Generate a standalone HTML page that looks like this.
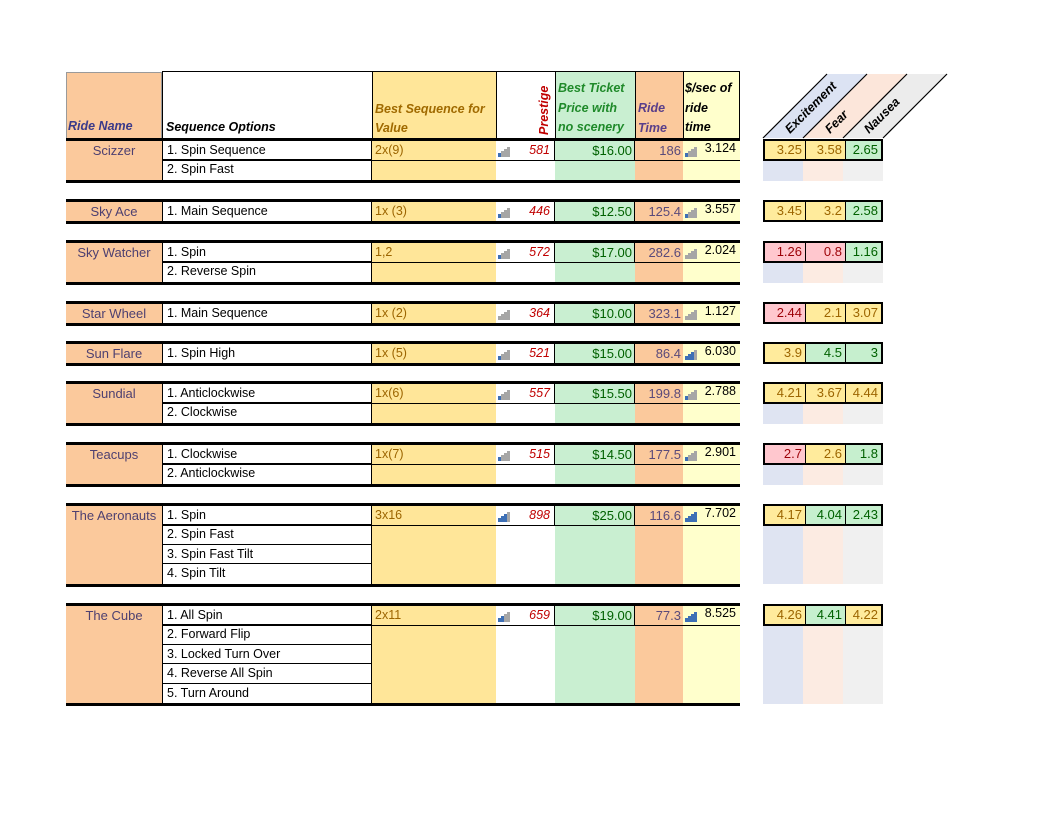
<!DOCTYPE html>
<html><head><meta charset="utf-8"><style>
body{margin:0;width:1053px;height:813px;background:#fff;position:relative;overflow:hidden;font-family:"Liberation Sans",sans-serif;font-size:12.5px}
.a{position:absolute;box-sizing:border-box}
.g{position:absolute;left:66px;width:674px;border-top:3px solid #000;border-bottom:3px solid #000;box-sizing:content-box}
.s{position:absolute;top:0;bottom:0}
.nm{left:0;width:96px;background:#fbc99c}
.sq{left:96px;width:210px;background:#fff;border-left:1px solid #000;border-right:1px solid #000;box-sizing:border-box}
.bs{left:306px;width:124px;background:#ffe699}
.pr{left:430px;width:59px;background:#fff}
.pc{left:489px;width:80px;background:#c9efd1}
.tm{left:569px;width:48px;background:#fbc99c}
.vl{left:617px;width:57px;background:#ffffcc}
.c{position:absolute;height:19.4px;line-height:19px;white-space:nowrap;overflow:hidden;box-sizing:border-box}
.rn{left:0;width:96px;text-align:center;color:#4e4070;font-size:13px}
.sqc{left:96px;width:210px;padding-left:4px;border-left:1px solid #000;border-right:1px solid #000;border-bottom:1px solid #000;color:#000}
.last{border-bottom:none}
.l1{position:absolute;left:96px;width:578px;top:19px;height:1px;background:#000}
.bsc{left:306px;width:124px;padding-left:3px;color:#9c6500}
.prc{left:430px;width:59px;padding-right:4px;text-align:right;color:#c00000;font-style:italic;border-right:1px solid #000}
.pcc{left:489px;width:80px;padding-right:2px;text-align:right;color:#006100;font-size:13px;border-right:1px solid #000}
.tmc{left:569px;width:48px;padding-right:2px;text-align:right;color:#5a4a7a;font-size:13px}
.vlc{left:617px;width:57px;padding-right:4px;text-align:right;color:#000;line-height:15px}
.ic{position:absolute;top:5px;width:13px;height:11px}
.ic i{position:absolute;bottom:0;width:2.5px;background:#a6a6a6}
.ic i.b{background:#3d6fb5}
.rt{position:absolute;left:763px;width:120px;height:22px;border:2px solid #000;box-sizing:border-box}
.rt span{position:absolute;top:0;height:18px;line-height:18px;text-align:right;padding-right:3px;box-sizing:border-box;font-size:13px}
.y{background:#ffeb9c;color:#9c6500}.gr{background:#c6efce;color:#006100}.r{background:#ffc7ce;color:#9c0006}
.fd{position:absolute;left:763px;width:120px}
.fd div{position:absolute;top:0;bottom:0;width:40px}
</style></head><body>

<!-- header -->
<div class="a" style="left:66px;top:72px;width:96px;height:66px;background:#fbc99c;border:1px solid #9a9a9a;border-bottom:none"></div>
<div class="a" style="left:68px;top:119px;color:#3a3a8a;font-weight:bold;font-style:italic;font-size:12.5px">Ride Name</div>
<div class="a" style="top:71px;height:3px;background:#000;left:162px;width:578px"></div>
<div class="a" style="left:162px;top:72px;width:210px;height:66px;background:#fff;border-left:1px solid #000"></div>
<div class="a" style="left:166px;top:120px;font-weight:bold;font-style:italic;font-size:12.5px">Sequence Options</div>
<div class="a" style="left:372px;top:72px;width:124px;height:66px;background:#ffe699;border-left:1px solid #000"></div>
<div class="a" style="left:375px;top:100px;color:#a06a00;font-weight:bold;font-style:italic;line-height:19px;font-size:12.5px">Best Sequence for<br>Value</div>
<div class="a" style="left:496px;top:72px;width:59px;height:66px;background:#fff;border-left:1px solid #000"></div>
<div class="a" style="left:555px;top:72px;width:80px;height:66px;background:#c9efd1;border-left:1px solid #000"></div>
<div class="a" style="left:537px;top:135px;transform-origin:0 0;transform:rotate(-90deg);color:#c00000;font-weight:bold;font-style:italic;font-size:12.5px;line-height:15px">Prestige</div>
<div class="a" style="left:558px;top:79px;color:#1f8a2a;font-weight:bold;font-style:italic;line-height:19.5px;font-size:12.5px">Best Ticket<br>Price with<br>no scenery</div>
<div class="a" style="left:635px;top:72px;width:48px;height:66px;background:#fbc99c;border-left:1px solid #000"></div>
<div class="a" style="left:638px;top:99px;color:#5a3f8a;font-weight:bold;font-style:italic;line-height:19.5px;font-size:12.5px">Ride<br>Time</div>
<div class="a" style="left:683px;top:72px;width:57px;height:66px;background:#ffffcc;border-left:1px solid #000;border-right:1px solid #000"></div>
<div class="a" style="left:685px;top:79px;color:#000;font-weight:bold;font-style:italic;line-height:19.5px;font-size:12.5px">$/sec of<br>ride<br>time</div>

<svg class="a" style="left:0;top:0" width="1053" height="813">
<polygon points="763,138 803,138 867,74 827,74" fill="#dce3f3"/>
<polygon points="803,138 843,138 907,74 867,74" fill="#fce6da"/>
<polygon points="843,138 883,138 947,74 907,74" fill="#ececec"/>
<g stroke="#000" stroke-width="1.2">
<line x1="763" y1="138" x2="827" y2="74"/><line x1="803" y1="138" x2="867" y2="74"/>
<line x1="843" y1="138" x2="907" y2="74"/><line x1="883" y1="138" x2="947" y2="74"/>
</g>
<g font-family="Liberation Sans" font-style="italic" font-weight="bold" font-size="12.5" fill="#000">
<text transform="translate(790,134) rotate(-45)">Excitement</text>
<text transform="translate(830,134) rotate(-45)">Fear</text>
<text transform="translate(869,134) rotate(-45)">Nausea</text>
</g>
</svg>

<!-- Scizzer -->
<div class="g" style="top:138px;height:38.8px">
<div class="s nm"></div><div class="s sq"></div><div class="s bs"></div><div class="s pr"></div><div class="s pc"></div><div class="s tm"></div><div class="s vl"></div>
<div class="c rn" style="top:0">Scizzer</div>
<div class="c sqc" style="top:0">1. Spin Sequence</div>
<div class="c sqc last" style="top:19.4px">2. Spin Fast</div>
<div class="c bsc" style="top:0">2x(9)</div>
<div class="c prc" style="top:0">581</div>
<div class="ic" style="left:432px"><i class="b" style="left:0;height:4px"></i><i style="left:3px;height:6px"></i><i style="left:6px;height:8px"></i><i style="left:9px;height:10px"></i></div>
<div class="c pcc" style="top:0">$16.00</div>
<div class="c tmc" style="top:0">186</div>
<div class="ic" style="left:619px"><i class="b" style="left:0;height:4px"></i><i style="left:3px;height:6px"></i><i style="left:6px;height:8px"></i><i style="left:9px;height:10px"></i></div>
<div class="c vlc" style="top:0">3.124</div>
<div class="l1"></div>
</div>
<div class="rt" style="top:139px"><span class="y" style="left:0;width:40px">3.25</span><span class="y" style="left:40px;width:40px;border-left:1px solid #000">3.58</span><span class="gr" style="left:80px;width:36px;border-left:1px solid #000">2.65</span></div>
<div class="fd" style="top:161px;height:20px"><div style="left:0;background:#dfe4f2"></div><div style="left:40px;background:#fcebe2"></div><div style="left:80px;background:#f0f0f0"></div></div>

<!-- Sky Ace -->
<div class="g" style="top:199px;height:19.4px">
<div class="s nm"></div><div class="s sq"></div><div class="s bs"></div><div class="s pr"></div><div class="s pc"></div><div class="s tm"></div><div class="s vl"></div>
<div class="c rn" style="top:0">Sky Ace</div>
<div class="c sqc last" style="top:0">1. Main Sequence</div>
<div class="c bsc" style="top:0">1x (3)</div>
<div class="c prc" style="top:0">446</div>
<div class="ic" style="left:432px"><i class="b" style="left:0;height:4px"></i><i style="left:3px;height:6px"></i><i style="left:6px;height:8px"></i><i style="left:9px;height:10px"></i></div>
<div class="c pcc" style="top:0">$12.50</div>
<div class="c tmc" style="top:0">125.4</div>
<div class="ic" style="left:619px"><i class="b" style="left:0;height:4px"></i><i style="left:3px;height:6px"></i><i style="left:6px;height:8px"></i><i style="left:9px;height:10px"></i></div>
<div class="c vlc" style="top:0">3.557</div>
</div>
<div class="rt" style="top:200px"><span class="y" style="left:0;width:40px">3.45</span><span class="y" style="left:40px;width:40px;border-left:1px solid #000">3.2</span><span class="gr" style="left:80px;width:36px;border-left:1px solid #000">2.58</span></div>

<!-- Sky Watcher -->
<div class="g" style="top:240px;height:38.8px">
<div class="s nm"></div><div class="s sq"></div><div class="s bs"></div><div class="s pr"></div><div class="s pc"></div><div class="s tm"></div><div class="s vl"></div>
<div class="c rn" style="top:0">Sky Watcher</div>
<div class="c sqc" style="top:0">1. Spin</div>
<div class="c sqc last" style="top:19.4px">2. Reverse Spin</div>
<div class="c bsc" style="top:0">1,2</div>
<div class="c prc" style="top:0">572</div>
<div class="ic" style="left:432px"><i class="b" style="left:0;height:4px"></i><i style="left:3px;height:6px"></i><i style="left:6px;height:8px"></i><i style="left:9px;height:10px"></i></div>
<div class="c pcc" style="top:0">$17.00</div>
<div class="c tmc" style="top:0">282.6</div>
<div class="ic" style="left:619px"><i style="left:0;height:4px"></i><i style="left:3px;height:6px"></i><i style="left:6px;height:8px"></i><i style="left:9px;height:10px"></i></div>
<div class="c vlc" style="top:0">2.024</div>
<div class="l1"></div>
</div>
<div class="rt" style="top:241px"><span class="r" style="left:0;width:40px">1.26</span><span class="r" style="left:40px;width:40px;border-left:1px solid #000">0.8</span><span class="gr" style="left:80px;width:36px;border-left:1px solid #000">1.16</span></div>
<div class="fd" style="top:263px;height:20px"><div style="left:0;background:#dfe4f2"></div><div style="left:40px;background:#fcebe2"></div><div style="left:80px;background:#f0f0f0"></div></div>

<!-- Star Wheel -->
<div class="g" style="top:301px;height:19.4px">
<div class="s nm"></div><div class="s sq"></div><div class="s bs"></div><div class="s pr"></div><div class="s pc"></div><div class="s tm"></div><div class="s vl"></div>
<div class="c rn" style="top:0">Star Wheel</div>
<div class="c sqc last" style="top:0">1. Main Sequence</div>
<div class="c bsc" style="top:0">1x (2)</div>
<div class="c prc" style="top:0">364</div>
<div class="ic" style="left:432px"><i style="left:0;height:4px"></i><i style="left:3px;height:6px"></i><i style="left:6px;height:8px"></i><i style="left:9px;height:10px"></i></div>
<div class="c pcc" style="top:0">$10.00</div>
<div class="c tmc" style="top:0">323.1</div>
<div class="ic" style="left:619px"><i style="left:0;height:4px"></i><i style="left:3px;height:6px"></i><i style="left:6px;height:8px"></i><i style="left:9px;height:10px"></i></div>
<div class="c vlc" style="top:0">1.127</div>
</div>
<div class="rt" style="top:302px"><span class="r" style="left:0;width:40px">2.44</span><span class="y" style="left:40px;width:40px;border-left:1px solid #000">2.1</span><span class="y" style="left:80px;width:36px;border-left:1px solid #000">3.07</span></div>

<!-- Sun Flare -->
<div class="g" style="top:341px;height:19.4px">
<div class="s nm"></div><div class="s sq"></div><div class="s bs"></div><div class="s pr"></div><div class="s pc"></div><div class="s tm"></div><div class="s vl"></div>
<div class="c rn" style="top:0">Sun Flare</div>
<div class="c sqc last" style="top:0">1. Spin High</div>
<div class="c bsc" style="top:0">1x (5)</div>
<div class="c prc" style="top:0">521</div>
<div class="ic" style="left:432px"><i class="b" style="left:0;height:4px"></i><i style="left:3px;height:6px"></i><i style="left:6px;height:8px"></i><i style="left:9px;height:10px"></i></div>
<div class="c pcc" style="top:0">$15.00</div>
<div class="c tmc" style="top:0">86.4</div>
<div class="ic" style="left:619px"><i class="b" style="left:0;height:4px"></i><i class="b" style="left:3px;height:6px"></i><i class="b" style="left:6px;height:8px"></i><i style="left:9px;height:10px"></i></div>
<div class="c vlc" style="top:0">6.030</div>
</div>
<div class="rt" style="top:342px"><span class="y" style="left:0;width:40px">3.9</span><span class="gr" style="left:40px;width:40px;border-left:1px solid #000">4.5</span><span class="gr" style="left:80px;width:36px;border-left:1px solid #000">3</span></div>

<!-- Sundial -->
<div class="g" style="top:381px;height:38.8px">
<div class="s nm"></div><div class="s sq"></div><div class="s bs"></div><div class="s pr"></div><div class="s pc"></div><div class="s tm"></div><div class="s vl"></div>
<div class="c rn" style="top:0">Sundial</div>
<div class="c sqc" style="top:0">1. Anticlockwise</div>
<div class="c sqc last" style="top:19.4px">2. Clockwise</div>
<div class="c bsc" style="top:0">1x(6)</div>
<div class="c prc" style="top:0">557</div>
<div class="ic" style="left:432px"><i class="b" style="left:0;height:4px"></i><i style="left:3px;height:6px"></i><i style="left:6px;height:8px"></i><i style="left:9px;height:10px"></i></div>
<div class="c pcc" style="top:0">$15.50</div>
<div class="c tmc" style="top:0">199.8</div>
<div class="ic" style="left:619px"><i class="b" style="left:0;height:4px"></i><i style="left:3px;height:6px"></i><i style="left:6px;height:8px"></i><i style="left:9px;height:10px"></i></div>
<div class="c vlc" style="top:0">2.788</div>
<div class="l1"></div>
</div>
<div class="rt" style="top:382px"><span class="y" style="left:0;width:40px">4.21</span><span class="y" style="left:40px;width:40px;border-left:1px solid #000">3.67</span><span class="y" style="left:80px;width:36px;border-left:1px solid #000">4.44</span></div>
<div class="fd" style="top:404px;height:20px"><div style="left:0;background:#dfe4f2"></div><div style="left:40px;background:#fcebe2"></div><div style="left:80px;background:#f0f0f0"></div></div>

<!-- Teacups -->
<div class="g" style="top:442px;height:38.8px">
<div class="s nm"></div><div class="s sq"></div><div class="s bs"></div><div class="s pr"></div><div class="s pc"></div><div class="s tm"></div><div class="s vl"></div>
<div class="c rn" style="top:0">Teacups</div>
<div class="c sqc" style="top:0">1. Clockwise</div>
<div class="c sqc last" style="top:19.4px">2. Anticlockwise</div>
<div class="c bsc" style="top:0">1x(7)</div>
<div class="c prc" style="top:0">515</div>
<div class="ic" style="left:432px"><i class="b" style="left:0;height:4px"></i><i style="left:3px;height:6px"></i><i style="left:6px;height:8px"></i><i style="left:9px;height:10px"></i></div>
<div class="c pcc" style="top:0">$14.50</div>
<div class="c tmc" style="top:0">177.5</div>
<div class="ic" style="left:619px"><i class="b" style="left:0;height:4px"></i><i style="left:3px;height:6px"></i><i style="left:6px;height:8px"></i><i style="left:9px;height:10px"></i></div>
<div class="c vlc" style="top:0">2.901</div>
<div class="l1"></div>
</div>
<div class="rt" style="top:443px"><span class="r" style="left:0;width:40px">2.7</span><span class="y" style="left:40px;width:40px;border-left:1px solid #000">2.6</span><span class="gr" style="left:80px;width:36px;border-left:1px solid #000">1.8</span></div>
<div class="fd" style="top:465px;height:20px"><div style="left:0;background:#dfe4f2"></div><div style="left:40px;background:#fcebe2"></div><div style="left:80px;background:#f0f0f0"></div></div>

<!-- The Aeronauts -->
<div class="g" style="top:503px;height:77.6px">
<div class="s nm"></div><div class="s sq"></div><div class="s bs"></div><div class="s pr"></div><div class="s pc"></div><div class="s tm"></div><div class="s vl"></div>
<div class="c rn" style="top:0">The Aeronauts</div>
<div class="c sqc" style="top:0">1. Spin</div>
<div class="c sqc" style="top:19.4px">2. Spin Fast</div>
<div class="c sqc" style="top:38.8px">3. Spin Fast Tilt</div>
<div class="c sqc last" style="top:58.2px">4. Spin Tilt</div>
<div class="c bsc" style="top:0">3x16</div>
<div class="c prc" style="top:0">898</div>
<div class="ic" style="left:432px"><i class="b" style="left:0;height:4px"></i><i class="b" style="left:3px;height:6px"></i><i class="b" style="left:6px;height:8px"></i><i style="left:9px;height:10px"></i></div>
<div class="c pcc" style="top:0">$25.00</div>
<div class="c tmc" style="top:0">116.6</div>
<div class="ic" style="left:619px"><i class="b" style="left:0;height:4px"></i><i class="b" style="left:3px;height:6px"></i><i class="b" style="left:6px;height:8px"></i><i class="b" style="left:9px;height:10px"></i></div>
<div class="c vlc" style="top:0">7.702</div>
<div class="l1"></div>
</div>
<div class="rt" style="top:504px"><span class="y" style="left:0;width:40px">4.17</span><span class="gr" style="left:40px;width:40px;border-left:1px solid #000">4.04</span><span class="gr" style="left:80px;width:36px;border-left:1px solid #000">2.43</span></div>
<div class="fd" style="top:526px;height:58px"><div style="left:0;background:#dfe4f2"></div><div style="left:40px;background:#fcebe2"></div><div style="left:80px;background:#f0f0f0"></div></div>

<!-- The Cube -->
<div class="g" style="top:603px;height:97px">
<div class="s nm"></div><div class="s sq"></div><div class="s bs"></div><div class="s pr"></div><div class="s pc"></div><div class="s tm"></div><div class="s vl"></div>
<div class="c rn" style="top:0">The Cube</div>
<div class="c sqc" style="top:0">1. All Spin</div>
<div class="c sqc" style="top:19.4px">2. Forward Flip</div>
<div class="c sqc" style="top:38.8px">3. Locked Turn Over</div>
<div class="c sqc" style="top:58.2px">4. Reverse All Spin</div>
<div class="c sqc last" style="top:77.6px">5. Turn Around</div>
<div class="c bsc" style="top:0">2x11</div>
<div class="c prc" style="top:0">659</div>
<div class="ic" style="left:432px"><i class="b" style="left:0;height:4px"></i><i class="b" style="left:3px;height:6px"></i><i style="left:6px;height:8px"></i><i style="left:9px;height:10px"></i></div>
<div class="c pcc" style="top:0">$19.00</div>
<div class="c tmc" style="top:0">77.3</div>
<div class="ic" style="left:619px"><i class="b" style="left:0;height:4px"></i><i class="b" style="left:3px;height:6px"></i><i class="b" style="left:6px;height:8px"></i><i class="b" style="left:9px;height:10px"></i></div>
<div class="c vlc" style="top:0">8.525</div>
<div class="l1"></div>
</div>
<div class="rt" style="top:604px"><span class="y" style="left:0;width:40px">4.26</span><span class="gr" style="left:40px;width:40px;border-left:1px solid #000">4.41</span><span class="y" style="left:80px;width:36px;border-left:1px solid #000">4.22</span></div>
<div class="fd" style="top:626px;height:78px"><div style="left:0;background:#dfe4f2"></div><div style="left:40px;background:#fcebe2"></div><div style="left:80px;background:#f0f0f0"></div></div>

</body></html>
